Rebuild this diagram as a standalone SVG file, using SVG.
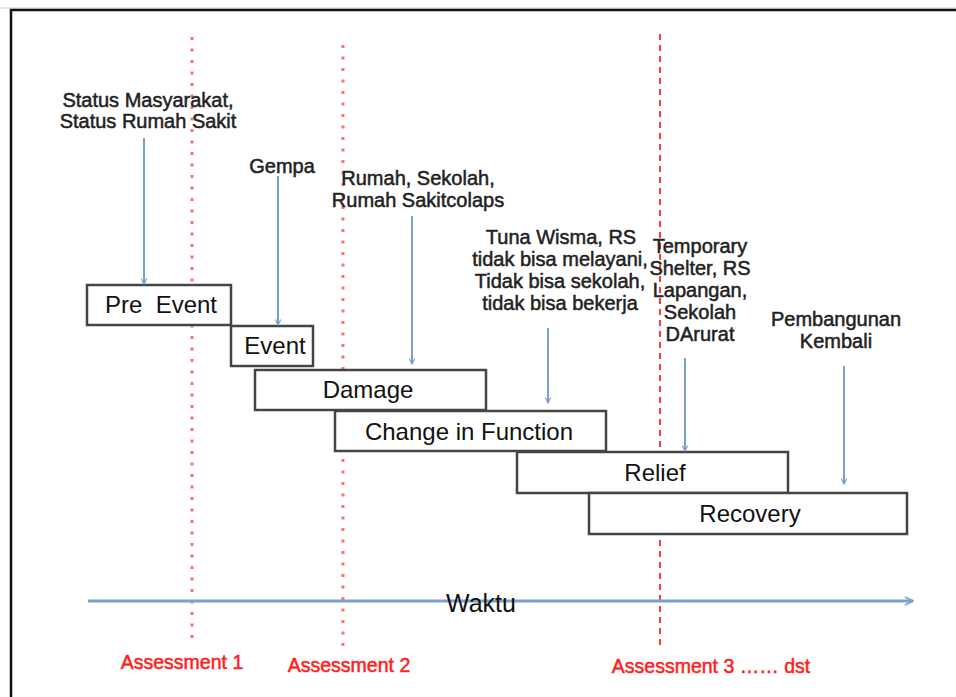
<svg xmlns="http://www.w3.org/2000/svg" width="956" height="697" viewBox="0 0 956 697">
<defs>
<marker id="ah" viewBox="0 0 10 10" refX="9" refY="5" markerWidth="7" markerHeight="7" markerUnits="userSpaceOnUse" orient="auto">
<path d="M1,1 L9,5 L1,9" fill="none" stroke="#7aa0cd" stroke-width="1.6"/>
</marker>
<marker id="ah2" viewBox="0 0 10 10" refX="9" refY="5" markerWidth="10" markerHeight="10" markerUnits="userSpaceOnUse" orient="auto">
<path d="M1,1 L9,5 L1,9" fill="none" stroke="#7aa0cd" stroke-width="1.8"/>
</marker>
</defs>
<style>
.box{fill:#fff;stroke:#444;stroke-width:2.5}
.bl{font-family:"Liberation Sans",Arial,sans-serif;font-size:24px;fill:#111;text-anchor:middle}
.note{font-family:"Liberation Sans",Arial,sans-serif;font-size:20px;fill:#222;stroke:#222;stroke-width:0.5;text-anchor:middle}
.conn{stroke:#7aa0cd;stroke-width:2;fill:none}
.red1{stroke:#ff7070;stroke-width:3;stroke-dasharray:3 8.5;fill:none}
.red3{stroke:#ff3a3a;stroke-width:2;stroke-dasharray:6 5;fill:none}
.asm{font-family:"Liberation Sans",Arial,sans-serif;font-size:19.5px;fill:#ff2020;stroke:#ff2020;stroke-width:0.5;text-anchor:middle}
</style>
<rect x="0" y="0" width="956" height="697" fill="#fff"/>
<line x1="0" y1="8" x2="956" y2="8" stroke="#ccc" stroke-width="1"/>
<path d="M11,700 L11,10 L960,10" fill="none" stroke="#111" stroke-width="2.5"/>

<g id="assessments">
<line class="red1" x1="192" y1="37" x2="192" y2="640"/>
<line class="red1" x1="343" y1="45" x2="343" y2="646"/>
<line class="red3" x1="660" y1="34" x2="660" y2="648"/>
</g>

<g id="pre-event"><rect class="box" x="87" y="285" width="144" height="40"/><text class="bl" x="161" y="313" xml:space="preserve">Pre  Event</text></g>
<g id="event"><rect class="box" x="231" y="326" width="82" height="40"/><text class="bl" x="275" y="354">Event</text></g>
<g id="damage"><rect class="box" x="255" y="370" width="231" height="40"/><text class="bl" x="368" y="398">Damage</text></g>
<g id="change"><rect class="box" x="335" y="411" width="271" height="40"/><text class="bl" x="469" y="440">Change in Function</text></g>
<g id="relief"><rect class="box" x="517" y="452" width="271" height="41"/><text class="bl" x="655" y="481">Relief</text></g>
<g id="recovery"><rect class="box" x="589" y="493" width="318" height="41"/><text class="bl" x="750" y="522">Recovery</text></g>

<g id="note-status"><text class="note" x="148" y="107">Status Masyarakat,</text><text class="note" x="148" y="128">Status Rumah Sakit</text></g>
<g id="note-gempa"><text class="note" x="282" y="173">Gempa</text></g>
<g id="note-rumah"><text class="note" x="418" y="185">Rumah, Sekolah,</text><text class="note" x="418" y="207">Rumah Sakitcolaps</text></g>
<g id="note-tuna"><text class="note" x="561" y="244">Tuna Wisma, RS</text><text class="note" x="560" y="266">tidak bisa melayani,</text><text class="note" x="560" y="288">Tidak bisa sekolah,</text><text class="note" x="560" y="310">tidak bisa bekerja</text></g>
<g id="note-temp"><text class="note" x="700" y="253">Temporary</text><text class="note" x="700" y="275">Shelter, RS</text><text class="note" x="700" y="297">Lapangan,</text><text class="note" x="700" y="319">Sekolah</text><text class="note" x="700" y="341">DArurat</text></g>
<g id="note-pemb"><text class="note" x="836" y="326">Pembangunan</text><text class="note" x="836" y="348">Kembali</text></g>

<g id="connectors">
<line class="conn" x1="144" y1="138" x2="144" y2="284" marker-end="url(#ah)"/>
<line class="conn" x1="278" y1="176" x2="278" y2="325" marker-end="url(#ah)"/>
<line class="conn" x1="412" y1="216" x2="412" y2="364" marker-end="url(#ah)"/>
<line class="conn" x1="548" y1="328" x2="548" y2="403" marker-end="url(#ah)"/>
<line class="conn" x1="685" y1="358" x2="685" y2="451" marker-end="url(#ah)"/>
<line class="conn" x1="844" y1="366" x2="844" y2="484" marker-end="url(#ah)"/>
<line x1="88" y1="601" x2="913" y2="601" stroke="#7aa0cd" stroke-width="3" marker-end="url(#ah2)"/>
</g>

<g id="waktu"><text class="bl" x="481" y="612" style="font-size:25px">Waktu</text></g>
<g id="labels">
<text class="asm" x="182" y="669">Assessment 1</text>
<text class="asm" x="349" y="672">Assessment 2</text>
<text class="asm" x="711" y="673">Assessment 3 …… dst</text>
</g>
</svg>
